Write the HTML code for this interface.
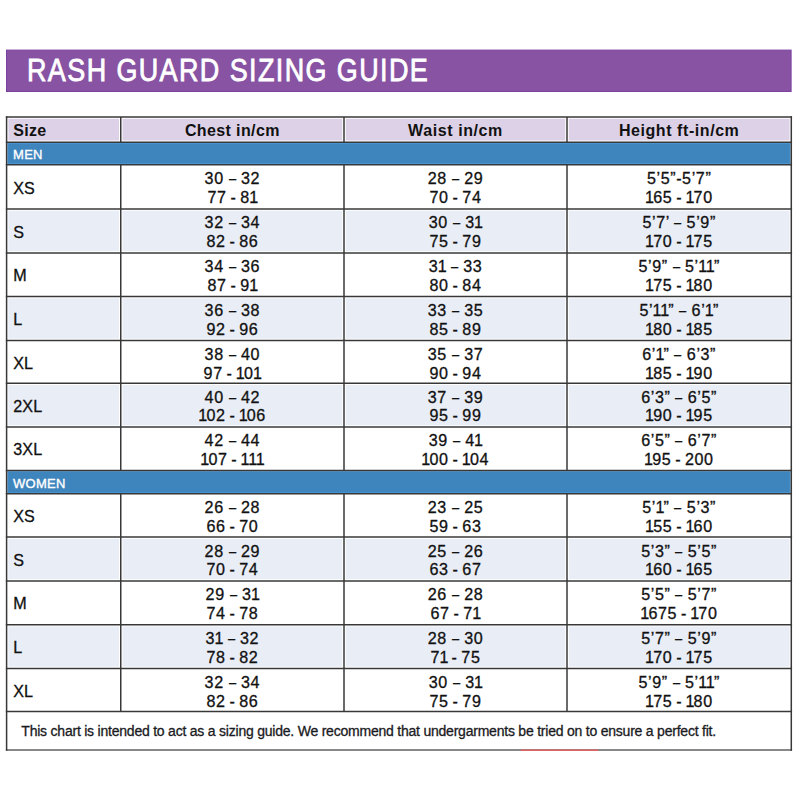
<!DOCTYPE html>
<html><head><meta charset="utf-8"><style>
html,body{margin:0;padding:0;background:#fff;}
body{width:800px;height:800px;position:relative;overflow:hidden;font-family:"Liberation Sans",sans-serif;}
svg{position:absolute;left:0;top:0;}
.t{position:absolute;line-height:1;white-space:nowrap;}
.d{display:inline-block;transform:scaleX(.8);}
.o{margin:0 -1.4px 0 -0.6px;}
</style></head><body>
<svg width="800" height="800" viewBox="0 0 800 800">
<rect x="6.5" y="50.1" width="784.6" height="41.4" fill="#8753a2" stroke="#7a41a0" stroke-width="1"/>
<rect x="8.35" y="118.75" width="110.65" height="21.75" fill="#ddd1e7"/>
<rect x="122.5" y="118.75" width="219.75" height="21.75" fill="#ddd1e7"/>
<rect x="345.75" y="118.75" width="219.5" height="21.75" fill="#ddd1e7"/>
<rect x="568.75" y="118.75" width="220.79999999999995" height="21.75" fill="#ddd1e7"/>
<rect x="7.35" y="143.0" width="783.1999999999999" height="21.0" fill="#4793cf"/>
<rect x="8.35" y="144.0" width="781.1999999999999" height="19.0" fill="#3f85bd"/>
<rect x="7.35" y="471.15" width="783.1999999999999" height="21.900000000000034" fill="#4793cf"/>
<rect x="8.35" y="472.15" width="781.1999999999999" height="19.900000000000034" fill="#3f85bd"/>
<rect x="8.35" y="210.75" width="110.65" height="40.400000000000006" fill="#e9edf6"/>
<rect x="122.5" y="210.75" width="219.75" height="40.400000000000006" fill="#e9edf6"/>
<rect x="345.75" y="210.75" width="219.5" height="40.400000000000006" fill="#e9edf6"/>
<rect x="568.75" y="210.75" width="220.79999999999995" height="40.400000000000006" fill="#e9edf6"/>
<rect x="8.35" y="298.35" width="110.65" height="40.299999999999955" fill="#e9edf6"/>
<rect x="122.5" y="298.35" width="219.75" height="40.299999999999955" fill="#e9edf6"/>
<rect x="345.75" y="298.35" width="219.5" height="40.299999999999955" fill="#e9edf6"/>
<rect x="568.75" y="298.35" width="220.79999999999995" height="40.299999999999955" fill="#e9edf6"/>
<rect x="8.35" y="385.05" width="110.65" height="40.19999999999999" fill="#e9edf6"/>
<rect x="122.5" y="385.05" width="219.75" height="40.19999999999999" fill="#e9edf6"/>
<rect x="345.75" y="385.05" width="219.5" height="40.19999999999999" fill="#e9edf6"/>
<rect x="568.75" y="385.05" width="220.79999999999995" height="40.19999999999999" fill="#e9edf6"/>
<rect x="8.35" y="538.85" width="110.65" height="40.299999999999955" fill="#e9edf6"/>
<rect x="122.5" y="538.85" width="219.75" height="40.299999999999955" fill="#e9edf6"/>
<rect x="345.75" y="538.85" width="219.5" height="40.299999999999955" fill="#e9edf6"/>
<rect x="568.75" y="538.85" width="220.79999999999995" height="40.299999999999955" fill="#e9edf6"/>
<rect x="8.35" y="626.45" width="110.65" height="40.19999999999993" fill="#e9edf6"/>
<rect x="122.5" y="626.45" width="219.75" height="40.19999999999993" fill="#e9edf6"/>
<rect x="345.75" y="626.45" width="219.5" height="40.19999999999993" fill="#e9edf6"/>
<rect x="568.75" y="626.45" width="220.79999999999995" height="40.19999999999993" fill="#e9edf6"/>
<line x1="5.85" y1="117.0" x2="792.05" y2="117.0" stroke="#383838" stroke-width="1.5"/>
<line x1="5.85" y1="142.25" x2="792.05" y2="142.25" stroke="#383838" stroke-width="1.5"/>
<line x1="5.85" y1="164.75" x2="792.05" y2="164.75" stroke="#383838" stroke-width="1.5"/>
<line x1="5.85" y1="209.0" x2="792.05" y2="209.0" stroke="#383838" stroke-width="1.5"/>
<line x1="5.85" y1="252.9" x2="792.05" y2="252.9" stroke="#383838" stroke-width="1.5"/>
<line x1="5.85" y1="296.6" x2="792.05" y2="296.6" stroke="#383838" stroke-width="1.5"/>
<line x1="5.85" y1="340.4" x2="792.05" y2="340.4" stroke="#383838" stroke-width="1.5"/>
<line x1="5.85" y1="383.3" x2="792.05" y2="383.3" stroke="#383838" stroke-width="1.5"/>
<line x1="5.85" y1="427.0" x2="792.05" y2="427.0" stroke="#383838" stroke-width="1.5"/>
<line x1="5.85" y1="470.4" x2="792.05" y2="470.4" stroke="#383838" stroke-width="1.5"/>
<line x1="5.85" y1="493.8" x2="792.05" y2="493.8" stroke="#383838" stroke-width="1.5"/>
<line x1="5.85" y1="537.1" x2="792.05" y2="537.1" stroke="#383838" stroke-width="1.5"/>
<line x1="5.85" y1="580.9" x2="792.05" y2="580.9" stroke="#383838" stroke-width="1.5"/>
<line x1="5.85" y1="624.7" x2="792.05" y2="624.7" stroke="#383838" stroke-width="1.5"/>
<line x1="5.85" y1="668.4" x2="792.05" y2="668.4" stroke="#383838" stroke-width="1.5"/>
<line x1="5.85" y1="711.4" x2="792.05" y2="711.4" stroke="#383838" stroke-width="1.5"/>
<line x1="5.85" y1="750.0" x2="792.05" y2="750.0" stroke="#606060" stroke-width="1.5"/>
<line x1="6.6" y1="116.25" x2="6.6" y2="750.75" stroke="#383838" stroke-width="1.5"/>
<line x1="791.3" y1="116.25" x2="791.3" y2="750.75" stroke="#383838" stroke-width="1.5"/>
<line x1="120.75" y1="117.0" x2="120.75" y2="142.25" stroke="#383838" stroke-width="1.5"/>
<line x1="120.75" y1="164.75" x2="120.75" y2="470.4" stroke="#383838" stroke-width="1.5"/>
<line x1="120.75" y1="493.8" x2="120.75" y2="711.4" stroke="#383838" stroke-width="1.5"/>
<line x1="344.0" y1="117.0" x2="344.0" y2="142.25" stroke="#383838" stroke-width="1.5"/>
<line x1="344.0" y1="164.75" x2="344.0" y2="470.4" stroke="#383838" stroke-width="1.5"/>
<line x1="344.0" y1="493.8" x2="344.0" y2="711.4" stroke="#383838" stroke-width="1.5"/>
<line x1="567.0" y1="117.0" x2="567.0" y2="142.25" stroke="#383838" stroke-width="1.5"/>
<line x1="567.0" y1="164.75" x2="567.0" y2="470.4" stroke="#383838" stroke-width="1.5"/>
<line x1="567.0" y1="493.8" x2="567.0" y2="711.4" stroke="#383838" stroke-width="1.5"/>
<line x1="520.7" y1="750.2" x2="598.3" y2="750.2" stroke="#e26464" stroke-width="1.6"/>
</svg>
<div class="t" style="left:27.2px;top:54.59px;width:760px;font-size:31px;color:#fff;font-weight:normal;text-align:left;letter-spacing:1.6px;-webkit-text-stroke:0.8px #fff;transform:scaleX(0.87);transform-origin:0 0;">RASH GUARD SIZING GUIDE</div>
<div class="t" style="left:13.2px;top:123.06px;width:100px;font-size:16px;color:#111;font-weight:bold;text-align:left;letter-spacing:0.3px;">Size</div>
<div class="t" style="left:120.75px;top:122.86px;width:223.25px;font-size:16px;color:#111;font-weight:bold;text-align:center;letter-spacing:0.38px;">Chest in/cm</div>
<div class="t" style="left:344.0px;top:122.86px;width:223.0px;font-size:16px;color:#111;font-weight:bold;text-align:center;letter-spacing:0.6px;">Waist in/cm</div>
<div class="t" style="left:567.0px;top:122.86px;width:224.29999999999995px;font-size:16px;color:#111;font-weight:bold;text-align:center;letter-spacing:0.57px;">Height ft-in/cm</div>
<div class="t" style="left:13.0px;top:148.14px;width:200px;font-size:13px;color:#fff;font-weight:normal;text-align:left;letter-spacing:0.3px;-webkit-text-stroke:0.35px #fff;">MEN</div>
<div class="t" style="left:13.0px;top:476.84px;width:200px;font-size:13px;color:#fff;font-weight:normal;text-align:left;letter-spacing:0.3px;-webkit-text-stroke:0.35px #fff;">WOMEN</div>
<div class="t" style="left:13.2px;top:179.52px;width:100px;font-size:16.1px;color:#111;font-weight:normal;text-align:left;letter-spacing:0.2px;-webkit-text-stroke:0.3px #111;">XS</div>
<div class="t" style="left:120.75px;top:170.15px;width:223.25px;font-size:16.1px;color:#111;font-weight:normal;text-align:center;letter-spacing:0.6px;-webkit-text-stroke:0.3px #111;word-spacing:-1.2px;">30 <span class="d">–</span> 32</div>
<div class="t" style="left:120.75px;top:188.85px;width:223.25px;font-size:16.1px;color:#111;font-weight:normal;text-align:center;letter-spacing:0.6px;-webkit-text-stroke:0.3px #111;word-spacing:-1.2px;">77 - 8<span class="o">1</span></div>
<div class="t" style="left:344.0px;top:170.15px;width:223.0px;font-size:16.1px;color:#111;font-weight:normal;text-align:center;letter-spacing:0.6px;-webkit-text-stroke:0.3px #111;word-spacing:-1.2px;">28 <span class="d">–</span> 29</div>
<div class="t" style="left:344.0px;top:188.85px;width:223.0px;font-size:16.1px;color:#111;font-weight:normal;text-align:center;letter-spacing:0.6px;-webkit-text-stroke:0.3px #111;word-spacing:-1.2px;">70 - 74</div>
<div class="t" style="left:567.0px;top:170.15px;width:224.29999999999995px;font-size:16.1px;color:#111;font-weight:normal;text-align:center;letter-spacing:0.6px;-webkit-text-stroke:0.3px #111;word-spacing:-1.2px;">5’5”-5’7”</div>
<div class="t" style="left:567.0px;top:188.85px;width:224.29999999999995px;font-size:16.1px;color:#111;font-weight:normal;text-align:center;letter-spacing:0.6px;-webkit-text-stroke:0.3px #111;word-spacing:-1.2px;"><span class="o">1</span>65 - <span class="o">1</span>70</div>
<div class="t" style="left:13.2px;top:223.60px;width:100px;font-size:16.1px;color:#111;font-weight:normal;text-align:left;letter-spacing:0.2px;-webkit-text-stroke:0.3px #111;">S</div>
<div class="t" style="left:120.75px;top:214.40px;width:223.25px;font-size:16.1px;color:#111;font-weight:normal;text-align:center;letter-spacing:0.6px;-webkit-text-stroke:0.3px #111;word-spacing:-1.2px;">32 <span class="d">–</span> 34</div>
<div class="t" style="left:120.75px;top:233.10px;width:223.25px;font-size:16.1px;color:#111;font-weight:normal;text-align:center;letter-spacing:0.6px;-webkit-text-stroke:0.3px #111;word-spacing:-1.2px;">82 - 86</div>
<div class="t" style="left:344.0px;top:214.40px;width:223.0px;font-size:16.1px;color:#111;font-weight:normal;text-align:center;letter-spacing:0.6px;-webkit-text-stroke:0.3px #111;word-spacing:-1.2px;">30 <span class="d">–</span> 3<span class="o">1</span></div>
<div class="t" style="left:344.0px;top:233.10px;width:223.0px;font-size:16.1px;color:#111;font-weight:normal;text-align:center;letter-spacing:0.6px;-webkit-text-stroke:0.3px #111;word-spacing:-1.2px;">75 - 79</div>
<div class="t" style="left:567.0px;top:214.40px;width:224.29999999999995px;font-size:16.1px;color:#111;font-weight:normal;text-align:center;letter-spacing:0.6px;-webkit-text-stroke:0.3px #111;word-spacing:-1.2px;">5’7’ <span class="d">–</span> 5’9”</div>
<div class="t" style="left:567.0px;top:233.10px;width:224.29999999999995px;font-size:16.1px;color:#111;font-weight:normal;text-align:center;letter-spacing:0.6px;-webkit-text-stroke:0.3px #111;word-spacing:-1.2px;"><span class="o">1</span>70 - <span class="o">1</span>75</div>
<div class="t" style="left:13.2px;top:267.40px;width:100px;font-size:16.1px;color:#111;font-weight:normal;text-align:left;letter-spacing:0.2px;-webkit-text-stroke:0.3px #111;">M</div>
<div class="t" style="left:120.75px;top:258.30px;width:223.25px;font-size:16.1px;color:#111;font-weight:normal;text-align:center;letter-spacing:0.6px;-webkit-text-stroke:0.3px #111;word-spacing:-1.2px;">34 <span class="d">–</span> 36</div>
<div class="t" style="left:120.75px;top:277.00px;width:223.25px;font-size:16.1px;color:#111;font-weight:normal;text-align:center;letter-spacing:0.6px;-webkit-text-stroke:0.3px #111;word-spacing:-1.2px;">87 - 9<span class="o">1</span></div>
<div class="t" style="left:344.0px;top:258.30px;width:223.0px;font-size:16.1px;color:#111;font-weight:normal;text-align:center;letter-spacing:0.6px;-webkit-text-stroke:0.3px #111;word-spacing:-1.2px;">3<span class="o">1</span> <span class="d">–</span> 33</div>
<div class="t" style="left:344.0px;top:277.00px;width:223.0px;font-size:16.1px;color:#111;font-weight:normal;text-align:center;letter-spacing:0.6px;-webkit-text-stroke:0.3px #111;word-spacing:-1.2px;">80 - 84</div>
<div class="t" style="left:567.0px;top:258.30px;width:224.29999999999995px;font-size:16.1px;color:#111;font-weight:normal;text-align:center;letter-spacing:0.6px;-webkit-text-stroke:0.3px #111;word-spacing:-1.2px;">5’9” <span class="d">–</span> 5’<span class="o">1</span><span class="o">1</span>”</div>
<div class="t" style="left:567.0px;top:277.00px;width:224.29999999999995px;font-size:16.1px;color:#111;font-weight:normal;text-align:center;letter-spacing:0.6px;-webkit-text-stroke:0.3px #111;word-spacing:-1.2px;"><span class="o">1</span>75 - <span class="o">1</span>80</div>
<div class="t" style="left:13.2px;top:311.15px;width:100px;font-size:16.1px;color:#111;font-weight:normal;text-align:left;letter-spacing:0.2px;-webkit-text-stroke:0.3px #111;">L</div>
<div class="t" style="left:120.75px;top:302.00px;width:223.25px;font-size:16.1px;color:#111;font-weight:normal;text-align:center;letter-spacing:0.6px;-webkit-text-stroke:0.3px #111;word-spacing:-1.2px;">36 <span class="d">–</span> 38</div>
<div class="t" style="left:120.75px;top:320.70px;width:223.25px;font-size:16.1px;color:#111;font-weight:normal;text-align:center;letter-spacing:0.6px;-webkit-text-stroke:0.3px #111;word-spacing:-1.2px;">92 - 96</div>
<div class="t" style="left:344.0px;top:302.00px;width:223.0px;font-size:16.1px;color:#111;font-weight:normal;text-align:center;letter-spacing:0.6px;-webkit-text-stroke:0.3px #111;word-spacing:-1.2px;">33 <span class="d">–</span> 35</div>
<div class="t" style="left:344.0px;top:320.70px;width:223.0px;font-size:16.1px;color:#111;font-weight:normal;text-align:center;letter-spacing:0.6px;-webkit-text-stroke:0.3px #111;word-spacing:-1.2px;">85 - 89</div>
<div class="t" style="left:567.0px;top:302.00px;width:224.29999999999995px;font-size:16.1px;color:#111;font-weight:normal;text-align:center;letter-spacing:0.6px;-webkit-text-stroke:0.3px #111;word-spacing:-1.2px;">5’<span class="o">1</span><span class="o">1</span>” <span class="d">–</span> 6’<span class="o">1</span>”</div>
<div class="t" style="left:567.0px;top:320.70px;width:224.29999999999995px;font-size:16.1px;color:#111;font-weight:normal;text-align:center;letter-spacing:0.6px;-webkit-text-stroke:0.3px #111;word-spacing:-1.2px;"><span class="o">1</span>80 - <span class="o">1</span>85</div>
<div class="t" style="left:13.2px;top:354.50px;width:100px;font-size:16.1px;color:#111;font-weight:normal;text-align:left;letter-spacing:0.2px;-webkit-text-stroke:0.3px #111;">XL</div>
<div class="t" style="left:120.75px;top:345.80px;width:223.25px;font-size:16.1px;color:#111;font-weight:normal;text-align:center;letter-spacing:0.6px;-webkit-text-stroke:0.3px #111;word-spacing:-1.2px;">38 <span class="d">–</span> 40</div>
<div class="t" style="left:120.75px;top:364.50px;width:223.25px;font-size:16.1px;color:#111;font-weight:normal;text-align:center;letter-spacing:0.6px;-webkit-text-stroke:0.3px #111;word-spacing:-1.2px;">97 - <span class="o">1</span>0<span class="o">1</span></div>
<div class="t" style="left:344.0px;top:345.80px;width:223.0px;font-size:16.1px;color:#111;font-weight:normal;text-align:center;letter-spacing:0.6px;-webkit-text-stroke:0.3px #111;word-spacing:-1.2px;">35 <span class="d">–</span> 37</div>
<div class="t" style="left:344.0px;top:364.50px;width:223.0px;font-size:16.1px;color:#111;font-weight:normal;text-align:center;letter-spacing:0.6px;-webkit-text-stroke:0.3px #111;word-spacing:-1.2px;">90 - 94</div>
<div class="t" style="left:567.0px;top:345.80px;width:224.29999999999995px;font-size:16.1px;color:#111;font-weight:normal;text-align:center;letter-spacing:0.6px;-webkit-text-stroke:0.3px #111;word-spacing:-1.2px;">6’<span class="o">1</span>” <span class="d">–</span> 6’3”</div>
<div class="t" style="left:567.0px;top:364.50px;width:224.29999999999995px;font-size:16.1px;color:#111;font-weight:normal;text-align:center;letter-spacing:0.6px;-webkit-text-stroke:0.3px #111;word-spacing:-1.2px;"><span class="o">1</span>85 - <span class="o">1</span>90</div>
<div class="t" style="left:13.2px;top:397.80px;width:100px;font-size:16.1px;color:#111;font-weight:normal;text-align:left;letter-spacing:0.2px;-webkit-text-stroke:0.3px #111;">2XL</div>
<div class="t" style="left:120.75px;top:388.70px;width:223.25px;font-size:16.1px;color:#111;font-weight:normal;text-align:center;letter-spacing:0.6px;-webkit-text-stroke:0.3px #111;word-spacing:-1.2px;">40 <span class="d">–</span> 42</div>
<div class="t" style="left:120.75px;top:407.40px;width:223.25px;font-size:16.1px;color:#111;font-weight:normal;text-align:center;letter-spacing:0.6px;-webkit-text-stroke:0.3px #111;word-spacing:-1.2px;"><span class="o">1</span>02 - <span class="o">1</span>06</div>
<div class="t" style="left:344.0px;top:388.70px;width:223.0px;font-size:16.1px;color:#111;font-weight:normal;text-align:center;letter-spacing:0.6px;-webkit-text-stroke:0.3px #111;word-spacing:-1.2px;">37 <span class="d">–</span> 39</div>
<div class="t" style="left:344.0px;top:407.40px;width:223.0px;font-size:16.1px;color:#111;font-weight:normal;text-align:center;letter-spacing:0.6px;-webkit-text-stroke:0.3px #111;word-spacing:-1.2px;">95 - 99</div>
<div class="t" style="left:567.0px;top:388.70px;width:224.29999999999995px;font-size:16.1px;color:#111;font-weight:normal;text-align:center;letter-spacing:0.6px;-webkit-text-stroke:0.3px #111;word-spacing:-1.2px;">6’3” <span class="d">–</span> 6’5”</div>
<div class="t" style="left:567.0px;top:407.40px;width:224.29999999999995px;font-size:16.1px;color:#111;font-weight:normal;text-align:center;letter-spacing:0.6px;-webkit-text-stroke:0.3px #111;word-spacing:-1.2px;"><span class="o">1</span>90 - <span class="o">1</span>95</div>
<div class="t" style="left:13.2px;top:441.35px;width:100px;font-size:16.1px;color:#111;font-weight:normal;text-align:left;letter-spacing:0.2px;-webkit-text-stroke:0.3px #111;">3XL</div>
<div class="t" style="left:120.75px;top:432.40px;width:223.25px;font-size:16.1px;color:#111;font-weight:normal;text-align:center;letter-spacing:0.6px;-webkit-text-stroke:0.3px #111;word-spacing:-1.2px;">42 <span class="d">–</span> 44</div>
<div class="t" style="left:120.75px;top:451.10px;width:223.25px;font-size:16.1px;color:#111;font-weight:normal;text-align:center;letter-spacing:0.6px;-webkit-text-stroke:0.3px #111;word-spacing:-1.2px;"><span class="o">1</span>07 - <span class="o">1</span><span class="o">1</span><span class="o">1</span></div>
<div class="t" style="left:344.0px;top:432.40px;width:223.0px;font-size:16.1px;color:#111;font-weight:normal;text-align:center;letter-spacing:0.6px;-webkit-text-stroke:0.3px #111;word-spacing:-1.2px;">39 <span class="d">–</span> 4<span class="o">1</span></div>
<div class="t" style="left:344.0px;top:451.10px;width:223.0px;font-size:16.1px;color:#111;font-weight:normal;text-align:center;letter-spacing:0.6px;-webkit-text-stroke:0.3px #111;word-spacing:-1.2px;"><span class="o">1</span>00 - <span class="o">1</span>04</div>
<div class="t" style="left:567.0px;top:432.40px;width:224.29999999999995px;font-size:16.1px;color:#111;font-weight:normal;text-align:center;letter-spacing:0.6px;-webkit-text-stroke:0.3px #111;word-spacing:-1.2px;">6’5” <span class="d">–</span> 6’7”</div>
<div class="t" style="left:567.0px;top:451.10px;width:224.29999999999995px;font-size:16.1px;color:#111;font-weight:normal;text-align:center;letter-spacing:0.6px;-webkit-text-stroke:0.3px #111;word-spacing:-1.2px;"><span class="o">1</span>95 - 200</div>
<div class="t" style="left:13.2px;top:508.10px;width:100px;font-size:16.1px;color:#111;font-weight:normal;text-align:left;letter-spacing:0.2px;-webkit-text-stroke:0.3px #111;">XS</div>
<div class="t" style="left:120.75px;top:499.20px;width:223.25px;font-size:16.1px;color:#111;font-weight:normal;text-align:center;letter-spacing:0.6px;-webkit-text-stroke:0.3px #111;word-spacing:-1.2px;">26 <span class="d">–</span> 28</div>
<div class="t" style="left:120.75px;top:517.90px;width:223.25px;font-size:16.1px;color:#111;font-weight:normal;text-align:center;letter-spacing:0.6px;-webkit-text-stroke:0.3px #111;word-spacing:-1.2px;">66 - 70</div>
<div class="t" style="left:344.0px;top:499.20px;width:223.0px;font-size:16.1px;color:#111;font-weight:normal;text-align:center;letter-spacing:0.6px;-webkit-text-stroke:0.3px #111;word-spacing:-1.2px;">23 <span class="d">–</span> 25</div>
<div class="t" style="left:344.0px;top:517.90px;width:223.0px;font-size:16.1px;color:#111;font-weight:normal;text-align:center;letter-spacing:0.6px;-webkit-text-stroke:0.3px #111;word-spacing:-1.2px;">59 - 63</div>
<div class="t" style="left:567.0px;top:499.20px;width:224.29999999999995px;font-size:16.1px;color:#111;font-weight:normal;text-align:center;letter-spacing:0.6px;-webkit-text-stroke:0.3px #111;word-spacing:-1.2px;">5’<span class="o">1</span>” <span class="d">–</span> 5’3”</div>
<div class="t" style="left:567.0px;top:517.90px;width:224.29999999999995px;font-size:16.1px;color:#111;font-weight:normal;text-align:center;letter-spacing:0.6px;-webkit-text-stroke:0.3px #111;word-spacing:-1.2px;"><span class="o">1</span>55 - <span class="o">1</span>60</div>
<div class="t" style="left:13.2px;top:551.65px;width:100px;font-size:16.1px;color:#111;font-weight:normal;text-align:left;letter-spacing:0.2px;-webkit-text-stroke:0.3px #111;">S</div>
<div class="t" style="left:120.75px;top:542.50px;width:223.25px;font-size:16.1px;color:#111;font-weight:normal;text-align:center;letter-spacing:0.6px;-webkit-text-stroke:0.3px #111;word-spacing:-1.2px;">28 <span class="d">–</span> 29</div>
<div class="t" style="left:120.75px;top:561.20px;width:223.25px;font-size:16.1px;color:#111;font-weight:normal;text-align:center;letter-spacing:0.6px;-webkit-text-stroke:0.3px #111;word-spacing:-1.2px;">70 - 74</div>
<div class="t" style="left:344.0px;top:542.50px;width:223.0px;font-size:16.1px;color:#111;font-weight:normal;text-align:center;letter-spacing:0.6px;-webkit-text-stroke:0.3px #111;word-spacing:-1.2px;">25 <span class="d">–</span> 26</div>
<div class="t" style="left:344.0px;top:561.20px;width:223.0px;font-size:16.1px;color:#111;font-weight:normal;text-align:center;letter-spacing:0.6px;-webkit-text-stroke:0.3px #111;word-spacing:-1.2px;">63 - 67</div>
<div class="t" style="left:567.0px;top:542.50px;width:224.29999999999995px;font-size:16.1px;color:#111;font-weight:normal;text-align:center;letter-spacing:0.6px;-webkit-text-stroke:0.3px #111;word-spacing:-1.2px;">5’3” <span class="d">–</span> 5’5”</div>
<div class="t" style="left:567.0px;top:561.20px;width:224.29999999999995px;font-size:16.1px;color:#111;font-weight:normal;text-align:center;letter-spacing:0.6px;-webkit-text-stroke:0.3px #111;word-spacing:-1.2px;"><span class="o">1</span>60 - <span class="o">1</span>65</div>
<div class="t" style="left:13.2px;top:595.45px;width:100px;font-size:16.1px;color:#111;font-weight:normal;text-align:left;letter-spacing:0.2px;-webkit-text-stroke:0.3px #111;">M</div>
<div class="t" style="left:120.75px;top:586.30px;width:223.25px;font-size:16.1px;color:#111;font-weight:normal;text-align:center;letter-spacing:0.6px;-webkit-text-stroke:0.3px #111;word-spacing:-1.2px;">29 <span class="d">–</span> 3<span class="o">1</span></div>
<div class="t" style="left:120.75px;top:605.00px;width:223.25px;font-size:16.1px;color:#111;font-weight:normal;text-align:center;letter-spacing:0.6px;-webkit-text-stroke:0.3px #111;word-spacing:-1.2px;">74 - 78</div>
<div class="t" style="left:344.0px;top:586.30px;width:223.0px;font-size:16.1px;color:#111;font-weight:normal;text-align:center;letter-spacing:0.6px;-webkit-text-stroke:0.3px #111;word-spacing:-1.2px;">26 <span class="d">–</span> 28</div>
<div class="t" style="left:344.0px;top:605.00px;width:223.0px;font-size:16.1px;color:#111;font-weight:normal;text-align:center;letter-spacing:0.6px;-webkit-text-stroke:0.3px #111;word-spacing:-1.2px;">67 - 7<span class="o">1</span></div>
<div class="t" style="left:567.0px;top:586.30px;width:224.29999999999995px;font-size:16.1px;color:#111;font-weight:normal;text-align:center;letter-spacing:0.6px;-webkit-text-stroke:0.3px #111;word-spacing:-1.2px;">5’5” <span class="d">–</span> 5’7”</div>
<div class="t" style="left:567.0px;top:605.00px;width:224.29999999999995px;font-size:16.1px;color:#111;font-weight:normal;text-align:center;letter-spacing:0.6px;-webkit-text-stroke:0.3px #111;word-spacing:-1.2px;"><span class="o">1</span>675 - <span class="o">1</span>70</div>
<div class="t" style="left:13.2px;top:639.20px;width:100px;font-size:16.1px;color:#111;font-weight:normal;text-align:left;letter-spacing:0.2px;-webkit-text-stroke:0.3px #111;">L</div>
<div class="t" style="left:120.75px;top:630.10px;width:223.25px;font-size:16.1px;color:#111;font-weight:normal;text-align:center;letter-spacing:0.6px;-webkit-text-stroke:0.3px #111;word-spacing:-1.2px;">3<span class="o">1</span> <span class="d">–</span> 32</div>
<div class="t" style="left:120.75px;top:648.80px;width:223.25px;font-size:16.1px;color:#111;font-weight:normal;text-align:center;letter-spacing:0.6px;-webkit-text-stroke:0.3px #111;word-spacing:-1.2px;">78 - 82</div>
<div class="t" style="left:344.0px;top:630.10px;width:223.0px;font-size:16.1px;color:#111;font-weight:normal;text-align:center;letter-spacing:0.6px;-webkit-text-stroke:0.3px #111;word-spacing:-1.2px;">28 <span class="d">–</span> 30</div>
<div class="t" style="left:344.0px;top:648.80px;width:223.0px;font-size:16.1px;color:#111;font-weight:normal;text-align:center;letter-spacing:0.6px;-webkit-text-stroke:0.3px #111;word-spacing:-1.2px;">7<span class="o">1</span> - 75</div>
<div class="t" style="left:567.0px;top:630.10px;width:224.29999999999995px;font-size:16.1px;color:#111;font-weight:normal;text-align:center;letter-spacing:0.6px;-webkit-text-stroke:0.3px #111;word-spacing:-1.2px;">5’7” <span class="d">–</span> 5’9”</div>
<div class="t" style="left:567.0px;top:648.80px;width:224.29999999999995px;font-size:16.1px;color:#111;font-weight:normal;text-align:center;letter-spacing:0.6px;-webkit-text-stroke:0.3px #111;word-spacing:-1.2px;"><span class="o">1</span>70 - <span class="o">1</span>75</div>
<div class="t" style="left:13.2px;top:682.55px;width:100px;font-size:16.1px;color:#111;font-weight:normal;text-align:left;letter-spacing:0.2px;-webkit-text-stroke:0.3px #111;">XL</div>
<div class="t" style="left:120.75px;top:673.80px;width:223.25px;font-size:16.1px;color:#111;font-weight:normal;text-align:center;letter-spacing:0.6px;-webkit-text-stroke:0.3px #111;word-spacing:-1.2px;">32 <span class="d">–</span> 34</div>
<div class="t" style="left:120.75px;top:692.50px;width:223.25px;font-size:16.1px;color:#111;font-weight:normal;text-align:center;letter-spacing:0.6px;-webkit-text-stroke:0.3px #111;word-spacing:-1.2px;">82 - 86</div>
<div class="t" style="left:344.0px;top:673.80px;width:223.0px;font-size:16.1px;color:#111;font-weight:normal;text-align:center;letter-spacing:0.6px;-webkit-text-stroke:0.3px #111;word-spacing:-1.2px;">30 <span class="d">–</span> 3<span class="o">1</span></div>
<div class="t" style="left:344.0px;top:692.50px;width:223.0px;font-size:16.1px;color:#111;font-weight:normal;text-align:center;letter-spacing:0.6px;-webkit-text-stroke:0.3px #111;word-spacing:-1.2px;">75 - 79</div>
<div class="t" style="left:567.0px;top:673.80px;width:224.29999999999995px;font-size:16.1px;color:#111;font-weight:normal;text-align:center;letter-spacing:0.6px;-webkit-text-stroke:0.3px #111;word-spacing:-1.2px;">5’9” <span class="d">–</span> 5’<span class="o">1</span><span class="o">1</span>”</div>
<div class="t" style="left:567.0px;top:692.50px;width:224.29999999999995px;font-size:16.1px;color:#111;font-weight:normal;text-align:center;letter-spacing:0.6px;-webkit-text-stroke:0.3px #111;word-spacing:-1.2px;"><span class="o">1</span>75 - <span class="o">1</span>80</div>
<div class="t" style="left:21.3px;top:723.98px;width:760px;font-size:14px;color:#1a1a22;font-weight:normal;text-align:left;letter-spacing:-0.22px;-webkit-text-stroke:0.3px #1a1a22;">This chart is intended to act as a sizing guide. We recommend that undergarments be tried on to ensure a perfect fit.</div>
</body></html>
